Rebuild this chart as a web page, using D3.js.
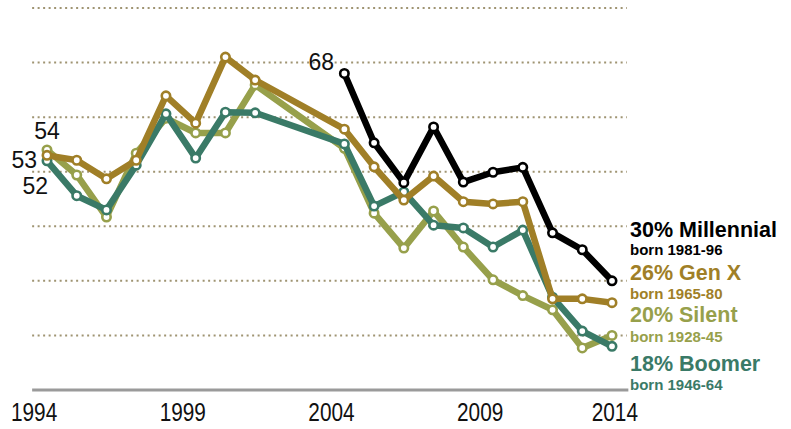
<!DOCTYPE html>
<meta charset="utf-8">
<style>
  body {
    margin: 0;
    background: #fff;
    font-family: "Liberation Sans", Arial, Helvetica, sans-serif;
  }
  .grid line {
    stroke: #9f9472;
    stroke-width: 2;
    stroke-dasharray: 2, 3.5;
  }
  .axis text {
    font-family: "Liberation Sans Narrow", "Arial Narrow", "Liberation Sans", sans-serif;
    font-size: 26px;
    fill: #111;
  }
  .series path {
    fill: none;
    stroke-width: 6.5;
    stroke-linejoin: round;
  }
  .series circle {
    fill: #fff;
    stroke-width: 2.6;
  }
</style>
<body>
<script src="https://d3js.org/d3.v7.min.js"></script>
<script>

var width = 780,
    height = 429;

// survey years (no data 2002-2003)
var years = [1994, 1995, 1996, 1997, 1998, 1999, 2000, 2001,
             2004, 2005, 2006, 2007, 2008, 2009, 2010, 2011, 2012, 2013];

var silent = [54, 49.4, 41.7, 53.4, 59.8, 57.1, 57.1, 65.9,
              54.3, 42.4, 36, 42.8, 36.2, 30.2, 27.3, 24.7, 17.7, 20];
var boomer = [52, 45.6, 43, 51.2, 60.6, 52.5, 60.9, 60.8,
              55.1, 43.7, 46.3, 40.2, 39.7, 36.2, 39.3, 27, 20.8, 18];
var genX = [53, 52.1, 48.7, 52.1, 63.9, 58.9, 71, 66.8,
            57.8, 50.9, 44.8, 49.2, 44.5, 44.1, 44.5, 26.7, 26.7, 26];
var millennial = [null, null, null, null, null, null, null, null,
                  68, 55.3, 48, 58.2, 48.1, 49.9, 50.8, 38.8, 35.7, 30];

var gridValues = [20, 30, 40, 50, 60, 70, 80];
var tickYears = [1994, 1999, 2004, 2009, 2014];

var series = [
  { name: "Silent", values: silent, color: "#97a04b" },
  { name: "Boomer", values: boomer, color: "#3a7a67" },
  { name: "Gen X", values: genX, color: "#a07f27" },
  { name: "Millennial", values: millennial, color: "#000" }
];

var x = d3.scaleLinear()
    .domain([1994, 2013])
    .range([47, 612]);

var y = d3.scaleLinear()
    .domain([10, 80])
    .range([390, 8]);

var svg = d3.select("body").append("svg")
    .attr("width", width)
    .attr("height", height);

// dotted gridlines
svg.append("g")
    .attr("class", "grid")
  .selectAll("line")
    .data(gridValues)
  .enter().append("line")
    .attr("x1", x(1993.5))
    .attr("x2", x(2013.5))
    .attr("y1", function(d) { return y(d); })
    .attr("y2", function(d) { return y(d); });

// baseline
svg.append("line")
    .attr("x1", x(1993.5))
    .attr("x2", x(2013.55))
    .attr("y1", y(10))
    .attr("y2", y(10))
    .style("stroke", "#9a9a9a")
    .style("stroke-width", 3);

// year labels sit at the start of each year
var xTick = x.copy().domain([1994.45, 2013.45]);

var axis = svg.append("g")
    .attr("class", "axis")
    .attr("transform", "translate(0," + y(10) + ")")
    .call(d3.axisBottom(xTick)
      .tickValues(tickYears)
      .tickSize(0)
      .tickPadding(13)
      .tickFormat(d3.format("d")));

axis.select(".domain").remove();
// narrow the digits like a condensed face
axis.selectAll(".tick text")
    .style("font-family", null)
    .style("font-size", null)
    .attr("transform", function(d) {
      return "translate(" + (d === 2014 ? -14 : 0) + ",0) scale(0.8,1)";
    });

var line = d3.line()
    .defined(function(d) { return d.v != null; })
    .x(function(d) { return x(d.year); })
    .y(function(d) { return y(d.v); });

var g = svg.selectAll(".series")
    .data(series)
  .enter().append("g")
    .attr("class", "series");

g.each(function(s) {
  var pts = years.map(function(yr, i) { return { year: yr, v: s.values[i] }; })
      .filter(function(d) { return d.v != null; });
  var sel = d3.select(this);
  sel.append("path")
      .attr("d", line(pts))
      .style("stroke", s.color);
  sel.selectAll("circle")
      .data(pts)
    .enter().append("circle")
      .attr("cx", function(d) { return x(d.year); })
      .attr("cy", function(d) { return y(d.v); })
      .attr("r", 4.2)
      .style("stroke", s.color);
});

// start values
var startLabels = [
  { text: "54", x: 47, y: 139, anchor: "middle" },
  { text: "53", x: 37, y: 168, anchor: "end" },
  { text: "52", x: 48, y: 194, anchor: "end" },
  { text: "68", x: 334, y: 70, anchor: "end" }
];

svg.selectAll(".startlabel")
    .data(startLabels)
  .enter().append("text")
    .attr("class", "startlabel")
    .attr("x", function(d) { return d.x; })
    .attr("y", function(d) { return d.y; })
    .attr("text-anchor", function(d) { return d.anchor; })
    .style("font-size", "23px")
    .style("fill", "#111")
    .text(function(d) { return d.text; });

// end labels
var endLabels = [
  { big: "30% Millennial", small: "born 1981-96", color: "#000", y: 237, y2: 255 },
  { big: "26% Gen X", small: "born 1965-80", color: "#a07f27", y: 280, y2: 299 },
  { big: "20% Silent", small: "born 1928-45", color: "#97a04b", y: 322, y2: 342 },
  { big: "18% Boomer", small: "born 1946-64", color: "#3a7a67", y: 371, y2: 390 }
];

var lab = svg.selectAll(".endlabel")
    .data(endLabels)
  .enter().append("g")
    .attr("class", "endlabel")
    .style("fill", function(d) { return d.color; })
    .style("font-weight", "bold");

lab.append("text")
    .attr("x", 630)
    .attr("y", function(d) { return d.y; })
    .style("font-size", "21.5px")
    .text(function(d) { return d.big; });

lab.append("text")
    .attr("x", 630)
    .attr("y", function(d) { return d.y2; })
    .style("font-size", "15px")
    .text(function(d) { return d.small; });

</script>
</body>
</html>
